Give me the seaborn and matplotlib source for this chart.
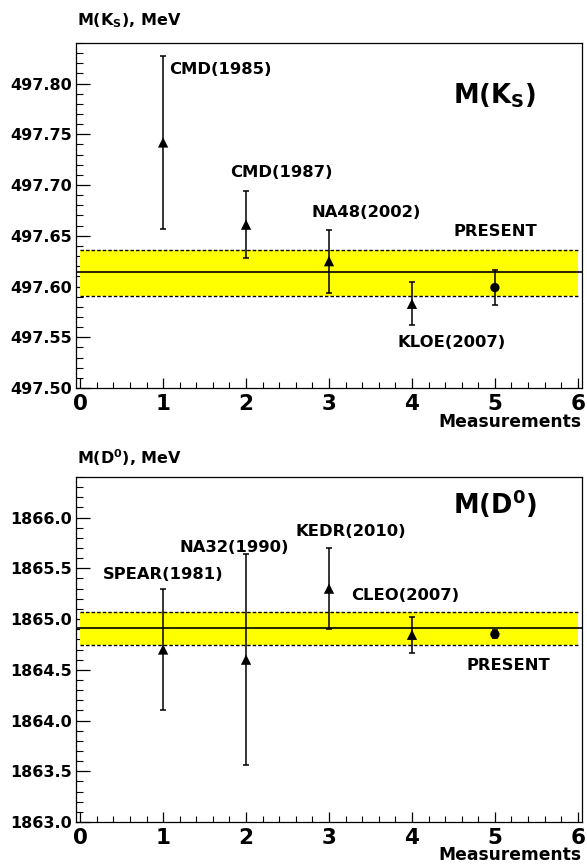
import numpy as np
import pandas as pd
import matplotlib
matplotlib.use('Agg')
from matplotlib import pyplot as plt
from matplotlib.ticker import MultipleLocator, FormatStrFormatter
import seaborn as sns

# measurements (x = measurement number)
meas_x = [1, 2, 3, 4, 5]
meas_kind = ['old', 'old', 'old', 'old', 'present']

# M(K_S), MeV
ks_names = ['CMD(1985)', 'CMD(1987)', 'NA48(2002)', 'KLOE(2007)', 'PRESENT']
ks_mass = [497.742, 497.661, 497.625, 497.583, 497.599]
ks_err = [0.085, 0.033, 0.031, 0.021, 0.017]
ks_avg = 497.614
ks_avg_lo = 497.591
ks_avg_hi = 497.636

# M(D0), MeV
d0_names = ['SPEAR(1981)', 'NA32(1990)', 'KEDR(2010)', 'CLEO(2007)', 'PRESENT']
d0_mass = [1864.70, 1864.60, 1865.30, 1864.845, 1864.85]
d0_err = [0.60, 1.04, 0.40, 0.18, 0.04]
d0_avg = 1864.91
d0_avg_lo = 1864.74
d0_avg_hi = 1865.07

sns.set_style('ticks')
plt.rcParams['font.family'] = ['DejaVu Sans']
plt.rcParams['font.weight'] = 'bold'
plt.rcParams['text.color'] = 'black'
plt.rcParams['axes.labelcolor'] = 'black'
plt.rcParams['xtick.color'] = 'black'
plt.rcParams['ytick.color'] = 'black'
plt.rcParams['mathtext.fontset'] = 'custom'
plt.rcParams['mathtext.rm'] = 'DejaVu Sans:bold'
plt.rcParams['mathtext.it'] = 'DejaVu Sans:bold'
plt.rcParams['mathtext.bf'] = 'DejaVu Sans:bold'

W, H = 587, 865
fig = plt.figure(figsize=(W / 100, H / 100), dpi=100)
fig.patch.set_facecolor('white')


def draw_panel(ax, mass, err, names, avg, lo, hi, ylim, ymaj, ymin, yfmt,
               name_pos, big, big_pos):
    df = pd.DataFrame({'x': meas_x, 'm': mass, 'e': err, 'kind': meas_kind})
    # average band
    ax.fill_between([0, 6], lo, hi, color='#ffff00', lw=0, zorder=1)
    for v in (lo, hi):
        ax.plot([0, 6], [v, v], color='black', lw=1.0, ls=(0, (2.5, 1.5)), zorder=2)
    ax.axhline(avg, color='black', lw=1.2, zorder=2)
    # measurements
    ax.errorbar(df['x'], df['m'], yerr=df['e'], fmt='none', ecolor='black',
                elinewidth=1.1, capsize=2, capthick=1.1, zorder=3)
    sns.scatterplot(data=df, x='x', y='m', style='kind', size='kind',
                    markers={'old': '^', 'present': 'o'},
                    sizes={'old': 55, 'present': 45},
                    color='black', edgecolor='black', linewidth=0,
                    legend=False, ax=ax, zorder=4)
    for name, (tx, ty) in zip(names, name_pos):
        ax.text(tx, ty, name, fontsize=11.8, fontweight='bold',
                ha='left', va='baseline')
    ax.text(big_pos[0], big_pos[1], big, fontsize=18.5, fontweight='bold',
            ha='left', va='baseline')

    ax.set_xlim(-0.05, 6.05)
    ax.set_ylim(*ylim)
    ax.set_xlabel('')
    ax.set_ylabel('')
    ax.xaxis.set_major_locator(MultipleLocator(1))
    ax.xaxis.set_minor_locator(MultipleLocator(0.2))
    ax.yaxis.set_major_locator(MultipleLocator(ymaj))
    ax.yaxis.set_minor_locator(MultipleLocator(ymin))
    ax.yaxis.set_major_formatter(FormatStrFormatter(yfmt))
    ax.tick_params(axis='x', which='major', direction='in', length=7.2,
                   width=0.9, labelsize=15.5, pad=4, top=False)
    ax.tick_params(axis='x', which='minor', direction='in', length=4,
                   width=0.8, top=False)
    ax.tick_params(axis='y', which='major', direction='in', length=10,
                   width=0.9, labelsize=11.5, pad=3, right=False)
    ax.tick_params(axis='y', which='minor', direction='in', length=5,
                   width=0.8, right=False)
    for lab in ax.get_xticklabels() + ax.get_yticklabels():
        lab.set_fontweight('bold')
    for sp in ax.spines.values():
        sp.set_visible(True)
        sp.set_color('black')
        sp.set_linewidth(0.9)


ax_l, ax_w, ax_h = 76 / W, 506 / W, 345 / H
ax1 = fig.add_axes([ax_l, 1 - 388 / H, ax_w, ax_h])
ax2 = fig.add_axes([ax_l, 1 - 822 / H, ax_w, ax_h])

draw_panel(ax1, ks_mass, ks_err, ks_names, ks_avg, ks_avg_lo, ks_avg_hi,
           (497.50, 497.84), 0.05, 0.01, '%.2f',
           [(1.07, 497.809), (1.81, 497.708), (2.79, 497.669),
            (3.83, 497.540), (4.50, 497.650)],
           r'M(K$_S$)', (4.50, 497.780))

draw_panel(ax2, d0_mass, d0_err, d0_names, d0_avg, d0_avg_lo, d0_avg_hi,
           (1863.0, 1866.4), 0.5, 0.1, '%.1f',
           [(0.27, 1865.394), (1.20, 1865.657), (2.60, 1865.818),
            (3.27, 1865.187), (4.66, 1864.498)],
           r'M(D$^0$)', (4.49, 1866.034))

fig.text(77 / W, 1 - 25 / H, r'M(K$_S$), MeV', fontsize=11.5, fontweight='bold',
         ha='left', va='baseline')
fig.text(77 / W, 1 - 464 / H, r'M(D$^0$), MeV', fontsize=11.5, fontweight='bold',
         ha='left', va='baseline')
fig.text(581 / W, 1 - 427 / H, 'Measurements', fontsize=12.3, fontweight='bold',
         ha='right', va='baseline')
fig.text(581 / W, 1 - 860 / H, 'Measurements', fontsize=12.3, fontweight='bold',
         ha='right', va='baseline')

fig.savefig('out.png', dpi=100)
